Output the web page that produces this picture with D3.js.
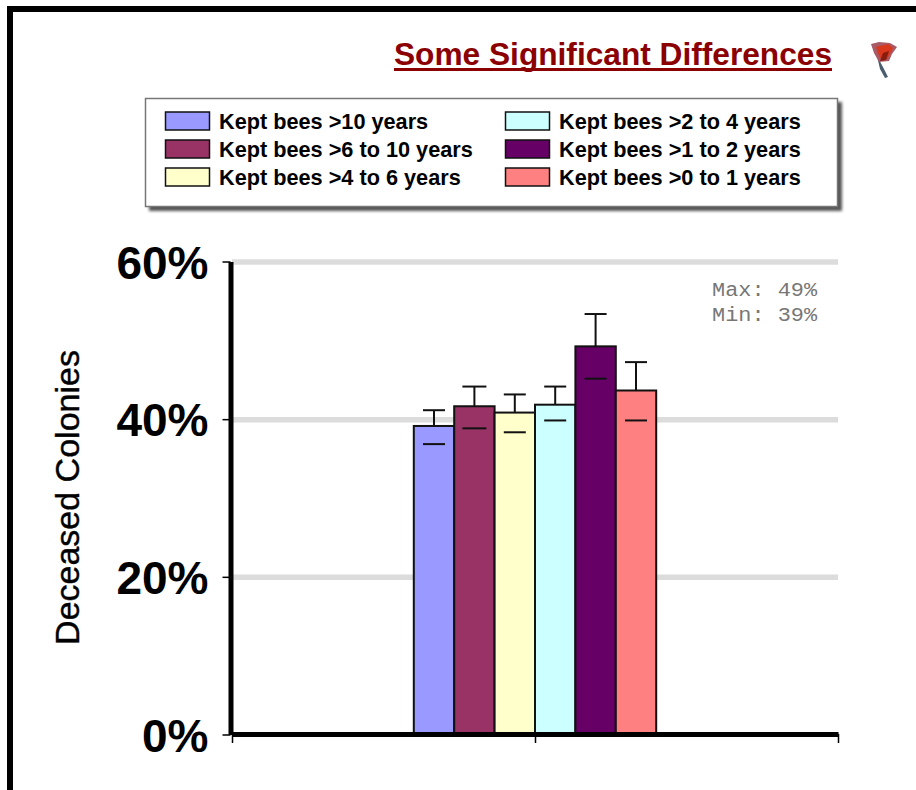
<!DOCTYPE html>
<html><head><meta charset="utf-8">
<script src="https://d3js.org/d3.v7.min.js"></script>
<style>html,body{margin:0;padding:0;background:#fff}svg{display:block}text{font-family:"Liberation Sans",Arial,sans-serif}</style>
</head><body><svg id="c" width="916" height="790"></svg>
<script>
const seriesNames=["Kept bees >10 years","Kept bees >6 to 10 years","Kept bees >4 to 6 years","Kept bees >2 to 4 years","Kept bees >1 to 2 years","Kept bees >0 to 1 years"];
const seriesColors=["#9999ff","#993366","#ffffcc","#ccffff","#660066","#ff8080"];
const values=[39.2,41.7,40.9,41.9,49.3,43.7];
const errorHigh=[41.2,44.2,43.2,44.2,53.4,47.3];
const errorLow=[36.9,38.9,38.4,39.9,45.2,39.9];
const yTicks=[0,20,40,60];
const categories=[""];
const titleText="Some Significant Differences";
const yTitleText="Deceased Colonies";
const noteLines=["Max: 49%","Min: 39%"];

const svg=d3.select("#c");
const W={l:232,r:838,t:262,b:735};
const defs=svg.append("defs");
defs.append("filter").attr("id","soft").append("feGaussianBlur").attr("stdDeviation",1.5);
defs.append("filter").attr("id","px").append("feGaussianBlur").attr("stdDeviation",0.7);

// frame
svg.append("rect").attr("x",7).attr("y",6).attr("width",909).attr("height",6).attr("fill","#000");
svg.append("rect").attr("x",7).attr("y",6).attr("width",6).attr("height",784).attr("fill","#000");

// title
svg.append("text").attr("x",394).attr("y",65).attr("textLength",438).attr("lengthAdjust","spacingAndGlyphs")
  .attr("font-size",32).attr("font-weight",700).attr("fill","#8b0000").text(titleText);
svg.append("rect").attr("x",394).attr("y",68).attr("width",438).attr("height",3).attr("fill","#8b0000");

// flag icon
const flag=svg.append("g").attr("transform","translate(871,41)").attr("filter","url(#px)");
flag.append("path").attr("d","M6 15 L13 28 L17 36 L14 37 L9 28 Z").attr("fill","#4a5d6e");
flag.append("path").attr("d","M0 3 L8 1 L19 2 L26 6 L21 13 L18 20 L8 21 L3 12Z").attr("fill","#a85a66");
flag.append("path").attr("d","M5 6 L17 3 L22 7 L16 18 L9 17Z").attr("fill","#d9381e");
flag.append("path").attr("d","M12 12 L18 10 L15 19 L9 20Z").attr("fill","#8a1a10");

// legend
svg.append("rect").attr("x",149).attr("y",102).attr("width",693).attr("height",109).attr("fill","#555").attr("filter","url(#soft)");
svg.append("rect").attr("x",145.5).attr("y",98.5).attr("width",692).attr("height",108).attr("fill","#fff").attr("stroke","#777").attr("stroke-width",1.5);
const colX=d3.scaleOrdinal().domain([0,1]).range([165,505]);
const rowY=d3.scaleBand().domain([0,1,2]).range([107,191]);
const leg=svg.append("g").selectAll("g").data(seriesNames).join("g")
  .attr("transform",(d,i)=>`translate(${colX(i<3?0:1)},${rowY(i%3)+rowY.bandwidth()/2})`);
leg.append("rect").attr("x",0.5).attr("y",-9).attr("width",44).attr("height",18)
  .attr("fill",(d,i)=>seriesColors[i]).attr("stroke","#111").attr("stroke-width",1.5);
leg.append("text").attr("x",54).attr("y",8).attr("font-size",21.7).attr("font-weight",700).attr("fill","#000")
  .text(d=>d);

// scales
const y=d3.scaleLinear().domain([0,60]).range([W.b,W.t]);
const x0=d3.scaleBand().domain(categories).range([W.l,W.r]).paddingOuter(0.75).paddingInner(0);
const x1=d3.scaleBand().domain(seriesNames).range([x0(""),x0("")+x0.bandwidth()]);

// grid
svg.append("g").selectAll("line").data(yTicks.filter(t=>t>0)).join("line")
  .attr("x1",W.l).attr("x2",W.r).attr("y1",d=>y(d)).attr("y2",d=>y(d)).attr("stroke","#dcdcdc").attr("stroke-width",5.5);

// error bars
const capW=[22,24,22,22,22,22];
const bars=svg.append("g");
const err=svg.append("g");
seriesNames.forEach((n,i)=>{
  const cx=x1(n)+x1.bandwidth()/2;
  err.append("line").attr("x1",cx).attr("x2",cx).attr("y1",y(values[i])).attr("y2",y(errorHigh[i])).attr("stroke","#111").attr("stroke-width",2);
  err.append("line").attr("x1",cx-capW[i]/2).attr("x2",cx+capW[i]/2).attr("y1",y(errorHigh[i])).attr("y2",y(errorHigh[i])).attr("stroke","#111").attr("stroke-width",2);
  bars.append("rect").attr("x",x1(n)).attr("y",y(values[i])).attr("width",x1.bandwidth()).attr("height",y(0)-y(values[i]))
    .attr("fill",seriesColors[i]).attr("stroke","#111").attr("stroke-width",2);
  err.append("line").attr("x1",cx-capW[i]/2).attr("x2",cx+capW[i]/2).attr("y1",y(errorLow[i])).attr("y2",y(errorLow[i])).attr("stroke","#111").attr("stroke-width",2);
});

// axes
const ay=svg.append("g").attr("transform",`translate(${W.l-1.5},-0.5)`)
  .call(d3.axisLeft(y).tickValues(yTicks).tickFormat(d=>d+"%").tickSize(8).tickSizeOuter(0).tickPadding(14));
ay.select(".domain").attr("stroke","#000").attr("stroke-width",5);
ay.selectAll(".tick line").attr("stroke","#000").attr("stroke-width",1.5);
ay.selectAll("text").attr("font-size",46).attr("font-weight",700).attr("fill","#000").attr("font-family","Liberation Sans").attr("dy","0.36em");
const xt=d3.scaleLinear().domain([0,2]).range([W.l,W.r]);
const ax=svg.append("g").attr("transform",`translate(0,${W.b-1})`)
  .call(d3.axisBottom(xt).tickValues([0,1,2]).tickFormat("").tickSize(9).tickSizeOuter(0));
ax.select(".domain").attr("stroke","#000").attr("stroke-width",5);
ax.selectAll(".tick line").attr("stroke","#000").attr("stroke-width",1.5);

// y title
svg.append("text").attr("transform","translate(79,497.5) rotate(-90)").attr("text-anchor","middle")
  .attr("font-size",34).attr("font-weight",400).attr("stroke","#000").attr("stroke-width",0.4).attr("fill","#000").text(yTitleText);

// note
svg.append("g").selectAll("text").data(noteLines).join("text")
  .attr("x",712).attr("y",(d,i)=>296+i*24.5).attr("textLength",105).attr("lengthAdjust","spacingAndGlyphs")
  .style("font-family","'Liberation Mono',monospace").attr("font-size",20).attr("fill","#777").text(d=>d);
</script></body></html>
